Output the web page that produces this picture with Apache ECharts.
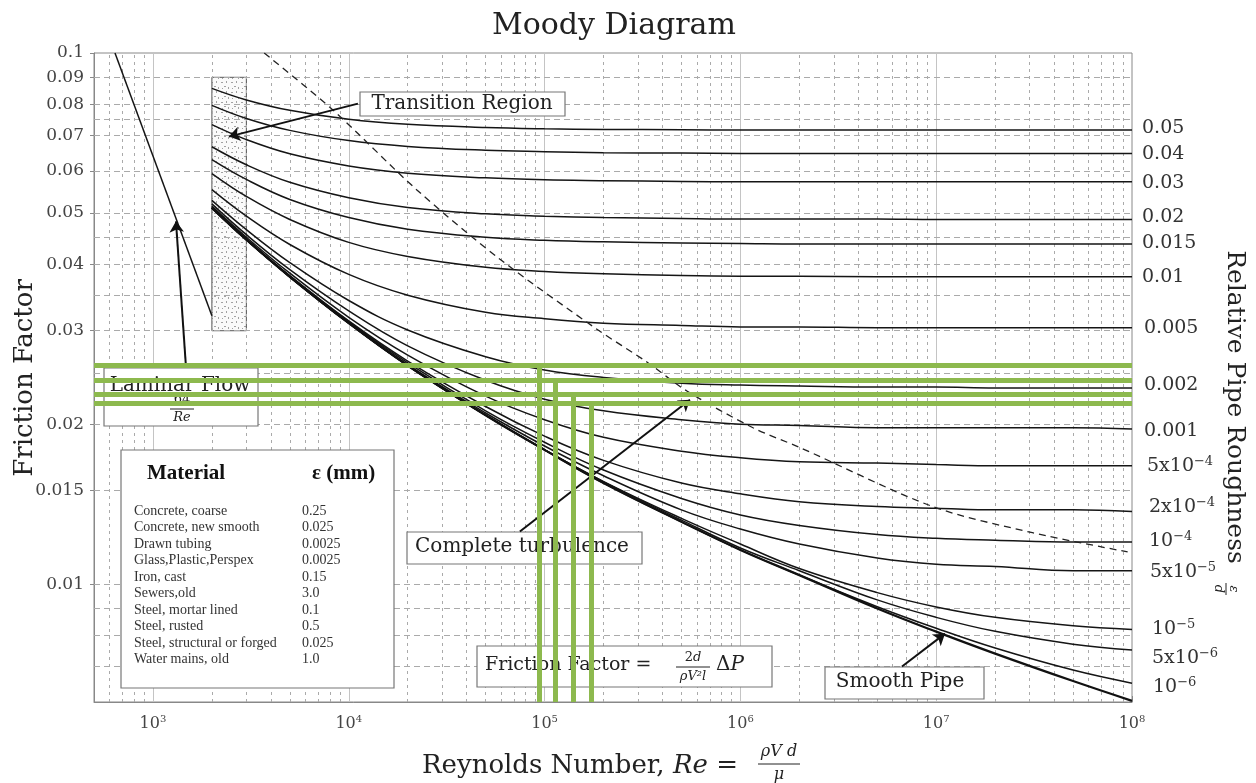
<!DOCTYPE html>
<html><head><meta charset="utf-8">
<script src="https://cdn.jsdelivr.net/npm/echarts@6/dist/echarts.min.js"></script>
<style>html,body{margin:0;padding:0;background:#fff}#c{width:1256px;height:783px}</style>
</head><body><div id="c"></div>
<script>
// ---------------- DATA ----------------
const reynolds = [2000, 3000, 5000, 1e4, 2e4, 5e4, 1e5, 2e5, 5e5, 1e6, 2e6, 5e6, 1e7, 2e7, 5e7, 1e8];

const rough_0_05  = [0.0858, 0.0816, 0.0780, 0.0750, 0.0734, 0.0724, 0.0720, 0.0718, 0.0717, 0.0716, 0.0716, 0.0716, 0.0716, 0.0716, 0.0716, 0.0716];
const rough_0_04  = [0.0797, 0.0753, 0.0715, 0.0684, 0.0667, 0.0656, 0.0652, 0.0649, 0.0648, 0.0647, 0.0647, 0.0647, 0.0647, 0.0647, 0.0647, 0.0647];
const rough_0_03  = [0.0733, 0.0687, 0.0646, 0.0613, 0.0594, 0.0582, 0.0577, 0.0575, 0.0573, 0.0572, 0.0572, 0.0572, 0.0572, 0.0572, 0.0572, 0.0572];
const rough_0_02  = [0.0666, 0.0616, 0.0571, 0.0534, 0.0512, 0.0498, 0.0493, 0.0490, 0.0488, 0.0487, 0.0487, 0.0487, 0.0486, 0.0486, 0.0486, 0.0486];
const rough_0_015 = [0.0630, 0.0578, 0.0530, 0.0490, 0.0466, 0.0450, 0.0444, 0.0441, 0.0439, 0.0438, 0.0437, 0.0437, 0.0437, 0.0437, 0.0437, 0.0437];
const rough_0_01  = [0.0593, 0.0537, 0.0486, 0.0440, 0.0414, 0.0395, 0.0388, 0.0384, 0.0381, 0.0380, 0.0380, 0.0379, 0.0379, 0.0379, 0.0379, 0.0379];
const rough_0_005 = [0.0553, 0.0493, 0.0436, 0.0383, 0.0350, 0.0325, 0.0316, 0.0310, 0.0307, 0.0305, 0.0305, 0.0304, 0.0304, 0.0304, 0.0304, 0.0304];
const rough_0_002 = [0.0528, 0.0465, 0.0403, 0.0342, 0.0301, 0.0268, 0.0253, 0.0245, 0.0239, 0.0237, 0.0236, 0.0235, 0.0235, 0.0234, 0.0234, 0.0234];
const rough_0_001 = [0.0520, 0.0455, 0.0391, 0.0327, 0.0281, 0.0242, 0.0223, 0.0212, 0.0204, 0.0200, 0.0199, 0.0197, 0.0197, 0.0197, 0.0197, 0.0196];
const rough_5e_4  = [0.0515, 0.0450, 0.0385, 0.0318, 0.0270, 0.0226, 0.0204, 0.0189, 0.0178, 0.0173, 0.0170, 0.0169, 0.0168, 0.0167, 0.0167, 0.0167];
const rough_2e_4  = [0.0513, 0.0447, 0.0381, 0.0313, 0.0263, 0.0216, 0.0190, 0.0171, 0.0155, 0.0148, 0.0143, 0.0140, 0.0139, 0.0138, 0.0138, 0.0137];
const rough_1e_4  = [0.0512, 0.0446, 0.0380, 0.0312, 0.0261, 0.0212, 0.0185, 0.0164, 0.0145, 0.0135, 0.0129, 0.0124, 0.0122, 0.0121, 0.0120, 0.0120];
const rough_5e_5  = [0.0511, 0.0445, 0.0379, 0.0311, 0.0259, 0.0210, 0.0182, 0.0160, 0.0138, 0.0127, 0.0119, 0.0112, 0.0109, 0.0108, 0.0106, 0.0106];
const rough_1e_5  = [0.0511, 0.0445, 0.0379, 0.0310, 0.0258, 0.0208, 0.0179, 0.0156, 0.0133, 0.0119, 0.0107, 0.00964, 0.00906, 0.00866, 0.00835, 0.00822];
const rough_5e_6  = [0.0511, 0.0445, 0.0379, 0.0310, 0.0258, 0.0208, 0.0179, 0.0156, 0.0132, 0.0117, 0.0106, 0.00934, 0.00866, 0.00815, 0.00771, 0.00752];
const rough_1e_6  = [0.0511, 0.0445, 0.0379, 0.0310, 0.0258, 0.0208, 0.0179, 0.0155, 0.0131, 0.0116, 0.0104, 0.00907, 0.00826, 0.00758, 0.00689, 0.00651];
const smoothPipe  = [0.0511, 0.0445, 0.0379, 0.0310, 0.0258, 0.0208, 0.0179, 0.0155, 0.0131, 0.0116, 0.0104, 0.00900, 0.00814, 0.00740, 0.00657, 0.00603];

const roughnessLabels = ['0.05', '0.04', '0.03', '0.02', '0.015', '0.01', '0.005', '0.002', '0.001',
  '5x10{sup|−4}', '2x10{sup|−4}', '10{sup|−4}', '5x10{sup|−5}', '10{sup|−5}', '5x10{sup|−6}', '10{sup|−6}'];
const roughCurves = [rough_0_05, rough_0_04, rough_0_03, rough_0_02, rough_0_015, rough_0_01, rough_0_005,
  rough_0_002, rough_0_001, rough_5e_4, rough_2e_4, rough_1e_4, rough_5e_5, rough_1e_5, rough_5e_6, rough_1e_6];

const laminarRe = [640, 2000];
const laminarF  = [0.1, 0.032];

const boundaryRe = [3700, 8300, 22200, 59200, 185000, 333000, 533000, 1.16e6, 2.0e6, 9.6e6, 3.1e7, 9.5e7];
const boundaryF  = [0.100, 0.0781, 0.0553, 0.0409, 0.0302, 0.0262, 0.0231, 0.0197, 0.0181, 0.0140, 0.0125, 0.0115];

const transitionRe = [2000, 3000];
const transitionF  = [0.03, 0.09];

const xTickValues = [1e3, 1e4, 1e5, 1e6, 1e7, 1e8];
const yTickValues = [0.01, 0.015, 0.02, 0.03, 0.04, 0.05, 0.06, 0.07, 0.08, 0.09, 0.1];
const yGridValues = [0.007, 0.008, 0.009, 0.01, 0.015, 0.02, 0.025, 0.03, 0.035, 0.04, 0.045, 0.05, 0.06, 0.07, 0.075, 0.08, 0.09];

const greenF  = [0.0258, 0.0242, 0.0228, 0.0219];
const greenRe = [93600, 113000, 139600, 172600];

// annotation arrows: [fromRe, fromF, toRe, toF]
const arrowTransition = [11140, 0.0803, 2443, 0.0696];
const arrowLaminar    = [1474, 0.0257, 1311, 0.0482];
const arrowTurbulence = [74800, 0.01256, 552800, 0.02225];
const arrowSmooth     = [6.69e6, 0.00700, 1.109e7, 0.00807];

const materials = ['Concrete, coarse', 'Concrete, new smooth', 'Drawn tubing', 'Glass,Plastic,Perspex', 'Iron, cast',
  'Sewers,old', 'Steel, mortar lined', 'Steel, rusted', 'Steel, structural or forged', 'Water mains, old'];
const materialEps = ['0.25', '0.025', '0.0025', '0.0025', '0.15', '3.0', '0.1', '0.5', '0.025', '1.0'];

// ---------------- LAYOUT / STYLE ----------------
const X_MIN = 500, X_MAX = 1e8, Y_MIN = 0.006, Y_MAX = 0.1;
const FONT = 'DejaVu Serif';
const TFONT = 'Liberation Serif';
const labelNudge = [[10,-2],[10,1],[10,1],[10,-2],[10,-1],[10,0],[12,0],[12,-3],[12,2],[15,0],[17,-4],[17,-1],[18,1],[20,0],[20,8],[21,4]];

const supRich = { sup: { fontSize: 13, fontFamily: FONT, color: '#333', padding: [0, 0, 9, 0] } };

// dotted fill pattern for the transition region
const pat = document.createElement('canvas');
pat.width = 10; pat.height = 10;
(function () {
  const c = pat.getContext('2d');
  c.fillStyle = '#fafafa'; c.fillRect(0, 0, 10, 10);
  c.fillStyle = 'rgba(90,90,90,0.55)';
  c.fillRect(1, 2, 2, 1); c.fillRect(6, 1, 1, 2); c.fillRect(4, 6, 2, 1); c.fillRect(8, 7, 1, 2); c.fillRect(2, 8, 1, 1);
})();

// grid lines
const gridData = [];
for (let e = 2; e <= 7; e++) for (let m = 2; m <= 9; m++) {
  const v = m * Math.pow(10, e);
  if (v > X_MIN && v < X_MAX) gridData.push({ coords: [[v, Y_MIN], [v, Y_MAX]], lineStyle: { type: [3, 4], color: '#aaa', width: 1 } });
}
xTickValues.forEach(v => gridData.push({ coords: [[v, Y_MIN], [v, Y_MAX]], lineStyle: { type: 'solid', color: '#c4c4c4', width: 1 } }));
yGridValues.forEach(v => gridData.push({ coords: [[X_MIN, v], [X_MAX, v]], lineStyle: { type: [6, 4], color: '#aaa', width: 1 } }));

const greenData = [];
greenF.forEach(f => greenData.push({ coords: [[X_MIN, f], [X_MAX, f]] }));
greenRe.forEach((re, i) => greenData.push({ coords: [[re, greenF[i]], [re, Y_MIN]] }));

const arrows = [arrowTransition, arrowLaminar, arrowTurbulence, arrowSmooth]
  .map(a => ({ coords: [[a[0], a[1]], [a[2], a[3]]] }));

const series = [];
series.push({
  type: 'lines', coordinateSystem: 'cartesian2d', z: 1, silent: true, symbol: 'none',
  data: gridData, lineStyle: { opacity: 1 }
});
roughCurves.forEach((arr, i) => {
  series.push({
    type: 'line', name: roughnessLabels[i], z: 3, showSymbol: false, smooth: 0.4, silent: true,
    lineStyle: { color: '#151515', width: 1.5 },
    data: reynolds.map((re, k) => [re, arr[k]]),
    endLabel: {
      show: true, distance: 0, offset: labelNudge[i],
      formatter: () => roughnessLabels[i],
      fontFamily: FONT, fontSize: 19, color: '#333', rich: supRich
    }
  });
});
series.push({
  type: 'line', name: 'Smooth Pipe', z: 3, showSymbol: false, smooth: 0.4, silent: true,
  lineStyle: { color: '#111', width: 2.2 },
  data: reynolds.map((re, k) => [re, smoothPipe[k]])
});
series.push({
  type: 'line', name: 'Laminar', z: 3, showSymbol: false, silent: true,
  lineStyle: { color: '#151515', width: 1.5 },
  data: laminarRe.map((re, k) => [re, laminarF[k]]),
  markArea: {
    silent: true,
    itemStyle: { color: { image: pat, repeat: 'repeat' }, borderColor: '#555', borderWidth: 1 },
    data: [[{ xAxis: transitionRe[0], yAxis: transitionF[0] }, { xAxis: transitionRe[1], yAxis: transitionF[1] }]]
  }
});
series.push({
  type: 'line', name: 'Complete turbulence boundary', z: 3, showSymbol: false, smooth: 0.3, silent: true,
  lineStyle: { color: '#222', width: 1.3, type: [7, 5] },
  data: boundaryRe.map((re, k) => [re, boundaryF[k]])
});
series.push({
  type: 'lines', coordinateSystem: 'cartesian2d', z: 25, silent: true,
  symbol: ['none', 'arrow'], symbolSize: 11,
  lineStyle: { color: '#111', width: 2, opacity: 1 },
  data: arrows
});
series.push({
  type: 'lines', coordinateSystem: 'cartesian2d', z: 50, silent: true, symbol: 'none',
  lineStyle: { color: '#8db94e', width: 5, opacity: 1 },
  data: greenData
});

// ---------------- GRAPHIC (annotation boxes, axis titles) ----------------
function box(x, y, w, h) {
  return { type: 'rect', z: 20, shape: { x, y, width: w, height: h }, style: { fill: '#fff', stroke: '#777', lineWidth: 1.2 } };
}
function txt(x, y, text, size, opts) {
  return { type: 'text', z: 21, x, y, style: Object.assign({ text, fontSize: size, fontFamily: FONT, fill: '#222', align: 'left', verticalAlign: 'middle' }, opts || {}) };
}
function hl(x1, x2, y, z) {
  return { type: 'line', z: z || 21, shape: { x1, y1: y, x2, y2: y }, style: { stroke: '#222', lineWidth: 1 } };
}
const g = [];
// Transition Region
g.push(box(360, 92, 205, 24), txt(462, 103.5, 'Transition Region', 20, { align: 'center' }));
// Laminar Flow
g.push(box(104, 368, 154, 58), txt(180, 386, 'Laminar Flow', 20, { align: 'center' }),
  txt(182, 400, '64', 13, { align: 'center' }), hl(170, 194, 409), txt(182, 418, 'Re', 13, { align: 'center', fontStyle: 'italic' }));
// Complete turbulence
g.push(box(407, 532, 235, 32), txt(522, 547, 'Complete turbulence', 20, { align: 'center' }));
// Friction Factor
g.push(box(477, 646, 295, 41), txt(485, 665, 'Friction Factor =', 19),
  txt(693, 658, '2{i|d}', 13, { align: 'center', rich: { i: { fontStyle: 'italic', fontSize: 13, fontFamily: FONT } } }),
  hl(676, 710, 667), txt(693, 677, 'ρV²l', 13, { align: 'center', fontStyle: 'italic' }),
  txt(716, 665, 'Δ{i|P}', 20, { rich: { i: { fontStyle: 'italic', fontSize: 20, fontFamily: FONT } } }));
// Smooth Pipe
g.push(box(825, 667, 159, 32), txt(900, 682, 'Smooth Pipe', 20, { align: 'center' }));
// Material table
g.push(box(121, 450, 273, 238),
  txt(147, 474, 'Material', 21, { fontFamily: TFONT, fontWeight: 'bold', fill: '#111' }),
  txt(312, 474, 'ε (mm)', 21, { fontFamily: TFONT, fontWeight: 'bold', fill: '#111' }));
materials.forEach((m, i) => {
  g.push(txt(134, 511 + i * 16.5, m, 14, { fontFamily: TFONT, fill: '#333' }));
  g.push(txt(302, 511 + i * 16.5, materialEps[i], 14, { fontFamily: TFONT, fill: '#333' }));
});
// axis titles
g.push({ type: 'text', z: 21, x: 25, y: 378, rotation: Math.PI / 2,
  style: { text: 'Friction Factor', fontSize: 26, fontFamily: FONT, fill: '#222', align: 'center', verticalAlign: 'middle' } });
g.push({ type: 'text', z: 21, x: 1234, y: 407, rotation: -Math.PI / 2,
  style: { text: 'Relative Pipe Roughness', fontSize: 25, fontFamily: FONT, fill: '#222', align: 'center', verticalAlign: 'middle' } });
g.push({ type: 'group', x: 1226, y: 589, rotation: -Math.PI / 2, children: [
  { type: 'text', z: 21, x: 0, y: -7, style: { text: 'ε', fontSize: 13, fontFamily: FONT, fontStyle: 'italic', fill: '#222', align: 'center', verticalAlign: 'middle' } },
  { type: 'line', z: 21, shape: { x1: -6, y1: 0, x2: 6, y2: 0 }, style: { stroke: '#222', lineWidth: 1 } },
  { type: 'text', z: 21, x: 0, y: 8, style: { text: 'd', fontSize: 13, fontFamily: FONT, fontStyle: 'italic', fill: '#222', align: 'center', verticalAlign: 'middle' } }
] });
g.push(txt(422, 766, 'Reynolds Number, {i|Re} =', 26, { rich: { i: { fontStyle: 'italic', fontSize: 26, fontFamily: FONT } } }),
  txt(779, 752, 'ρV d', 16, { align: 'center', fontStyle: 'italic' }),
  hl(758, 800, 764), txt(779, 775, 'μ', 16, { align: 'center', fontStyle: 'italic' }));

const option = {
  animation: false,
  backgroundColor: '#fff',
  title: { text: 'Moody Diagram', left: 487, top: 6,
    textStyle: { fontFamily: FONT, fontSize: 30, fontWeight: 'normal', color: '#222' } },
  grid: { left: 94, right: 124, top: 53, bottom: 81, show: true, borderColor: '#888', borderWidth: 1 },
  xAxis: {
    type: 'log', logBase: 10, min: X_MIN, max: X_MAX,
    axisLine: { show: true, lineStyle: { color: '#888' } },
    axisTick: { show: true, inside: true, length: 6, customValues: xTickValues, lineStyle: { color: '#888' } },
    splitLine: { show: false }, minorSplitLine: { show: false },
    axisLabel: {
      customValues: xTickValues, margin: 12, fontFamily: FONT, fontSize: 16, color: '#444',
      formatter: v => '10{sup|' + Math.round(Math.log10(v)) + '}',
      rich: { sup: { fontSize: 10, fontFamily: FONT, color: '#444', padding: [0, 0, 9, 0] } }
    }
  },
  yAxis: {
    type: 'log', logBase: 10, min: Y_MIN, max: Y_MAX,
    axisLine: { show: true, lineStyle: { color: '#888' } },
    axisTick: { show: true, length: 4, customValues: yTickValues, lineStyle: { color: '#888' } },
    splitLine: { show: false },
    axisLabel: {
      customValues: yTickValues, margin: 10, fontFamily: FONT, fontSize: 17, color: '#444',
      formatter: v => String(+v.toPrecision(3))
    }
  },
  graphic: g,
  series
};
const chart = echarts.init(document.getElementById('c'), null, { renderer: 'canvas' });
chart.setOption(option);
</script></body></html>
